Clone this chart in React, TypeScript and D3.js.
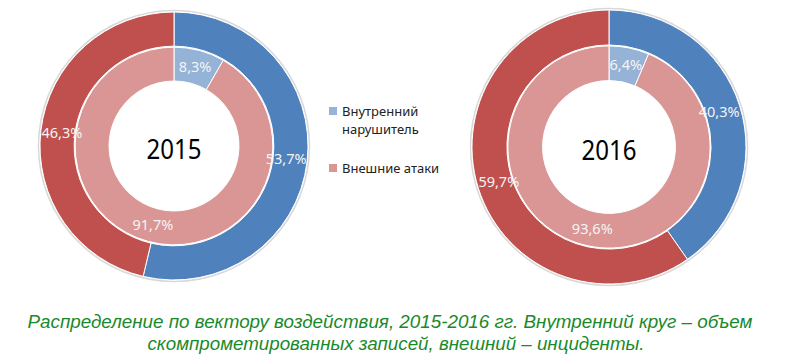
import React from "react";
import * as d3 from "d3";

// categories and values (percent)
const categories = ["Внутренний нарушитель", "Внешние атаки"];
const years = ["2015", "2016"];
const incidents2015 = [53.7, 46.3]; // outer ring
const records2015 = [8.3, 91.7]; // inner ring
const incidents2016 = [40.3, 59.7];
const records2016 = [6.4, 93.6];
const captionLines = [
  "Распределение по вектору воздействия, 2015-2016 гг. Внутренний круг – объем",
  "скомпрометированных записей, внешний – инциденты.",
];

const width = 800;
const height = 363;

const outerColors = ["#4f81bd", "#c0504d"];
const innerColors = ["#95b3d7", "#d99694"];

interface DonutProps {
  id: string;
  cx: number;
  cy: number;
  radius: number;
  year: string;
  outer: number[];
  inner: number[];
}

const fmt = (v: number) => v.toFixed(1).replace(".", ",") + "%";

function Donut({ id, cx, cy, radius, year, outer, inner }: DonutProps) {
  const pie = d3
    .pie<number>()
    .sort(null)
    .value((d) => d);

  const split = radius * 0.745;
  const hole = radius * 0.485;

  const outerArc = d3
    .arc<d3.PieArcDatum<number>>()
    .innerRadius(split)
    .outerRadius(radius);
  const innerArc = d3
    .arc<d3.PieArcDatum<number>>()
    .innerRadius(hole)
    .outerRadius(split - 1);
  // labels sit a little inside the ring middle
  const outerLabelArc = d3
    .arc<d3.PieArcDatum<number>>()
    .innerRadius(split - 4)
    .outerRadius(radius - 4);

  const outerSlices = pie(outer);
  const innerSlices = pie(inner);

  return (
    <g transform={`translate(${cx},${cy})`}>
      <defs>
        <clipPath id={`clip-${id}`}>
          <rect x={-radius - 3} y={-radius - 5} width={radius * 2 + 3} height={radius * 2 + 10} />
        </clipPath>
      </defs>
      <circle r={radius + 1.5} fill="none" stroke="#d8d8d8" strokeWidth={1.5} />
      {outerSlices.map((s, i) => (
        <path key={"o" + i} d={outerArc(s) || ""} fill={outerColors[i]} stroke="#ffffff" strokeWidth={1} />
      ))}
      {innerSlices.map((s, i) => (
        <path key={"i" + i} d={innerArc(s) || ""} fill={innerColors[i]} stroke="#ffffff" strokeWidth={1} />
      ))}
      <g clipPath={`url(#clip-${id})`} fontFamily="'Noto Sans', sans-serif" fontSize={14.5} fill="#f4f4f4" textAnchor="middle">
        {outerSlices.map((s, i) => {
          const [x, y] = outerLabelArc.centroid(s);
          return (
            <text key={"lo" + i} x={x} y={y} dy="0.35em">
              {fmt(s.data)}
            </text>
          );
        })}
        {innerSlices.map((s, i) => {
          const [x, y] = innerArc.centroid(s);
          return (
            <text key={"li" + i} x={x} y={y} dy="0.35em">
              {fmt(s.data)}
            </text>
          );
        })}
      </g>
      <text
        x={0}
        y={3}
        dy="0.35em"
        textAnchor="middle"
        fontFamily="'Noto Sans', sans-serif"
        fontSize={28}
        textLength={55}
        lengthAdjust="spacingAndGlyphs"
        fill="#000000"
      >
        {year}
      </text>
    </g>
  );
}

export default function App() {
  const legendRows = [
    { color: innerColors[0], lines: ["Внутренний", "нарушитель"], y: 111 },
    { color: innerColors[1], lines: ["Внешние атаки"], y: 168 },
  ];
  const captionLayout = [
    { x: 390, y: 328, len: 725 },
    { x: 396, y: 350, len: 497 },
  ];

  return (
    <svg
      width={width}
      height={height}
      style={{ position: "absolute", left: 0, top: 0, background: "#ffffff" }}
    >
      <Donut id="a" cx={174} cy={146} radius={134} year={years[0]} outer={incidents2015} inner={records2015} />
      <Donut id="b" cx={609} cy={147} radius={137} year={years[1]} outer={incidents2016} inner={records2016} />

      {/* legend */}
      <g fontFamily="'Noto Sans', sans-serif" fontSize={13} fill="#222222">
        {legendRows.map((r, i) => (
          <g key={i}>
            <rect x={329} y={r.y - 4} width={8} height={8} fill={r.color} />
            {r.lines.map((l, j) => (
              <text key={j} x={342} y={r.y + j * 18} dy="0.35em">
                {l}
              </text>
            ))}
          </g>
        ))}
        <title>{categories.join(", ")}</title>
      </g>

      {/* caption */}
      <g
        fontFamily="'Liberation Sans', Arial, sans-serif"
        fontStyle="italic"
        fontSize={17.5}
        fill="#198a2a"
        textAnchor="middle"
      >
        {captionLines.map((l, i) => (
          <text
            key={i}
            x={captionLayout[i].x}
            y={captionLayout[i].y}
            textLength={captionLayout[i].len}
            lengthAdjust="spacingAndGlyphs"
          >
            {l}
          </text>
        ))}
      </g>
    </svg>
  );
}
